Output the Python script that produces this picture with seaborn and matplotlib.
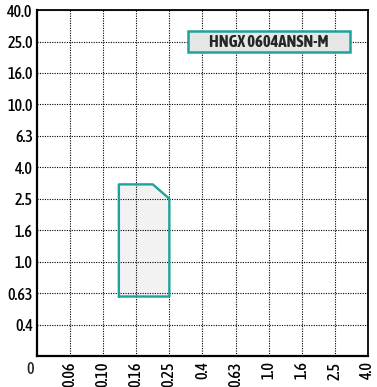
import numpy as np
import pandas as pd
import matplotlib.pyplot as plt
import seaborn as sns
from matplotlib.patches import Rectangle

# axis categories (R10 series, evenly spaced on the chart)
fz_ticks = ["0.06", "0.10", "0.16", "0.25", "0.4", "0.63", "1.0", "1.6", "2.5", "4.0"]
ap_ticks = ["0.4", "0.63", "1.0", "1.6", "2.5", "4.0", "6.3", "10.0", "16.0", "25.0", "40.0"]

# application area outline (fz, ap)
area_fz = [0.125, 0.125, 0.20, 0.25, 0.25, 0.125]
area_ap = [0.60, 3.1, 3.1, 2.5, 0.60, 0.60]

insert_name = "HNGX 0604ANSN-M"
label_fz = 1.0
label_ap = 25.0

teal = "#1ea39b"


def to_pos(vals, ticks):
    # map values onto the evenly spaced tick positions (log between ticks)
    t = np.log(np.array(ticks, dtype=float))
    return np.interp(np.log(vals), t, np.arange(1, len(ticks) + 1))


sns.set_style("white")
plt.rcParams["font.family"] = ["Asap Condensed", "DejaVu Sans"]

fig = plt.figure(figsize=(3.77, 3.87), dpi=100)
ax = fig.add_axes([0.098, 0.080, 0.878, 0.894])

df = pd.DataFrame({"x": to_pos(area_fz, fz_ticks), "y": to_pos(area_ap, ap_ticks)})
ax.fill(df["x"], df["y"], color="#f2f2f2", zorder=1)
sns.lineplot(data=df, x="x", y="y", sort=False, estimator=None,
             color=teal, lw=1.7, ax=ax, zorder=3)

ax.set_xlim(0, len(fz_ticks))
ax.set_ylim(0, len(ap_ticks))
ax.set_xticks(np.arange(1, len(fz_ticks) + 1))
ax.set_xticklabels(fz_ticks, rotation=90, fontsize=11.5, fontweight="medium")
ax.set_yticks(np.arange(1, len(ap_ticks) + 1))
ax.set_yticklabels(ap_ticks, fontsize=11.5, fontweight="medium")
ax.tick_params(axis="y", length=0, pad=3, colors="black")
ax.tick_params(axis="x", length=0, pad=4, colors="black")
ax.set_xlabel("")
ax.set_ylabel("")
ax.grid(True, color="black", ls=(0, (1, 1.2)), lw=0.8, zorder=2)
ax.set_axisbelow(False)
for s in ax.spines.values():
    s.set_color("black")
    s.set_linewidth(1.3)
    s.set_zorder(4)
ax.spines["left"].set_linewidth(1.6)
ax.spines["bottom"].set_linewidth(1.6)

ax.text(-0.22, -0.42, "0", ha="center", va="center", fontsize=11.5,
        fontweight="medium", clip_on=False)

# name plate
lx = to_pos([label_fz], fz_ticks)[0]
ly = to_pos([label_ap], ap_ticks)[0]
bw, bh = 4.9, 0.68
ax.add_patch(Rectangle((lx - bw / 2, ly - bh / 2), bw, bh, fc="#e6e6e6",
                       ec=teal, lw=1.8, zorder=5))
ax.text(lx, ly, insert_name, ha="center", va="center", fontsize=12,
        fontweight="bold", zorder=6)

fig.savefig("out.png", dpi=100)
